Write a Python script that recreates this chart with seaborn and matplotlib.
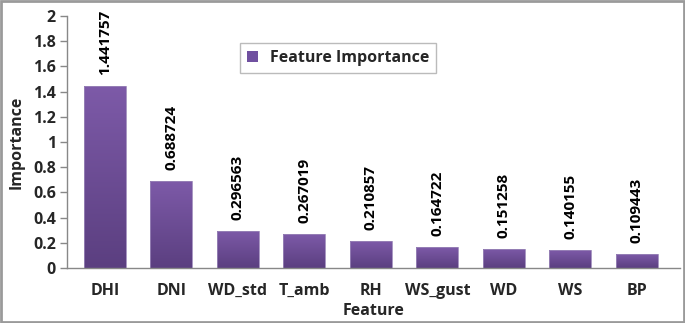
import numpy as np
import pandas as pd
import matplotlib
matplotlib.use("Agg")
import matplotlib.pyplot as plt
import seaborn as sns
from matplotlib.colors import LinearSegmentedColormap
from matplotlib.patches import Rectangle

features = ["DHI", "DNI", "WD_std", "T_amb", "RH", "WS_gust", "WD", "WS", "BP"]
importance = [1.441757, 0.688724, 0.296563, 0.267019, 0.210857, 0.164722, 0.151258, 0.140155, 0.109443]
labels = ["1.441757", "0.688724", "0.296563", "0.267019", "0.210857", "0.164722", "0.151258", "0.140155", "0.109443"]
yticks = [0, 0.2, 0.4, 0.6, 0.8, 1, 1.2, 1.4, 1.6, 1.8, 2]
ytick_labels = ["0", "0.2", "0.4", "0.6", "0.8", "1", "1.2", "1.4", "1.6", "1.8", "2"]

sns.set_theme(style="white")
FAM = ["Open Sans", "DejaVu Sans"]
plt.rcParams["font.family"] = FAM
plt.rcParams["font.weight"] = "bold"

df = pd.DataFrame({"Feature": features, "Importance": importance})

W, H = 685, 323
fig = plt.figure(figsize=(W / 100, H / 100), dpi=100)
ax = fig.add_axes([67 / W, 1 - 268 / H, (680 - 67) / W, (268 - 16) / H])

sns.barplot(data=df, x="Feature", y="Importance", ax=ax, color="#6c4c96",
            width=0.63, saturation=1, edgecolor="none")

ax.set_xlim(-0.571, 8.65)
ax.set_ylim(0, 2)

cmap = LinearSegmentedColormap.from_list("g", ["#5b3f80", "#7d5aa8"])
grad = np.linspace(0, 1, 256).reshape(-1, 1)
for p in ax.patches:
    x0, y0 = p.get_x(), p.get_y()
    w, h = p.get_width(), p.get_height()
    im = ax.imshow(grad, cmap=cmap, aspect="auto", origin="lower",
                   extent=[x0, x0 + w, y0, y0 + h], zorder=p.get_zorder() + 0.1)
    im.set_clip_path(p)
    p.set_facecolor("none")
    ax.add_patch(Rectangle((x0, y0), w, h, fill=False, edgecolor="#9a86b8",
                           lw=0.6, zorder=p.get_zorder() + 0.2))

for i, (v, s) in enumerate(zip(importance, labels)):
    ax.annotate(s, (i, v), xytext=(0, 8), textcoords="offset points",
                rotation=90, ha="center", va="bottom", fontsize=11,
                fontweight="bold", color="black")

ax.set_yticks(yticks)
ax.set_yticklabels(ytick_labels, fontsize=11.5, fontweight="bold")
ax.tick_params(axis="y", direction="out", length=5, width=1, color="#888888",
               left=True, pad=3)
ax.tick_params(axis="x", length=0, pad=11, labelsize=11.5)
for t in ax.get_xticklabels():
    t.set_fontweight("bold")

ax.set_ylabel("Importance", fontsize=11.5, fontweight="bold", labelpad=6)
ax.set_xlabel("Feature", fontsize=11.5, fontweight="bold", labelpad=3)

for s in ["top", "right"]:
    ax.spines[s].set_visible(False)
for s in ["left", "bottom"]:
    ax.spines[s].set_color("#888888")
    ax.spines[s].set_linewidth(1)

handle = Rectangle((0, 0), 1, 1, facecolor="#7050a0", edgecolor="none")
leg = ax.legend([handle], ["Feature Importance"], loc="upper left",
                bbox_to_anchor=((232 - 67) / (680 - 67), 1 - (35 - 16) / (268 - 16)),
                frameon=True, fancybox=False, handlelength=0.7, handleheight=0.7,
                handletextpad=0.7, borderpad=0.45,
                prop={"family": FAM, "weight": "bold", "size": 11.5})
leg.get_frame().set_edgecolor("#aaaaaa")
leg.get_frame().set_linewidth(1)

fig.patches.append(Rectangle((0.001, 0.002), 0.997, 0.995, transform=fig.transFigure,
                             fill=False, edgecolor="#9a9a9a", lw=2))

fig.savefig("out.png", dpi=100)
